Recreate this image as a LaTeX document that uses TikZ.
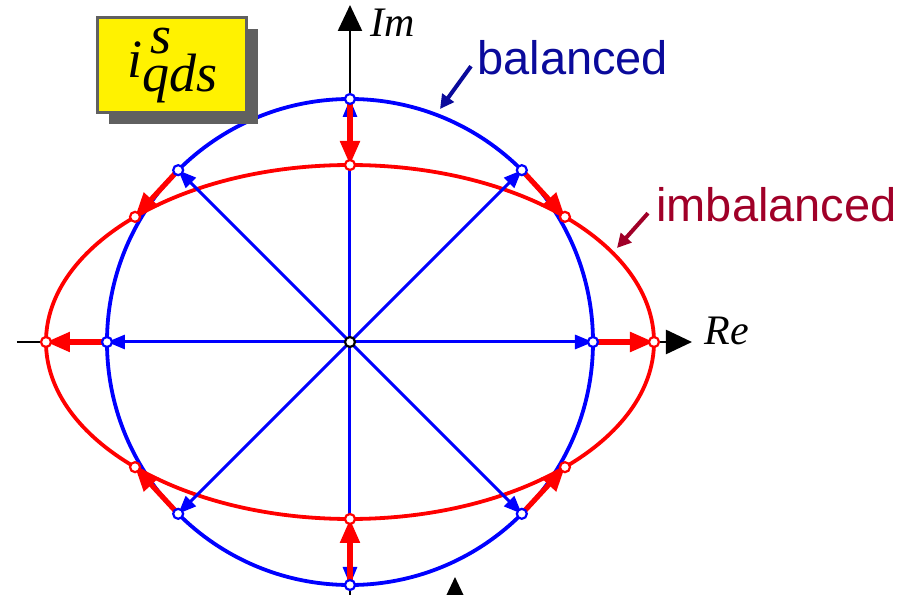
\documentclass[tikz,border=0pt]{standalone}
\usepackage{fontspec}
\setmainfont{Liberation Serif}
\newfontfamily\timesfont{Liberation Serif}
\newfontfamily\notefont{Liberation Sans}
\usetikzlibrary{positioning, arrows.meta, shadows}
\definecolor{vecblue}{RGB}{0,0,255}
\definecolor{vecred}{RGB}{255,0,0}
\definecolor{noteblue}{RGB}{10,10,155}
\definecolor{notered}{RGB}{160,0,40}
\definecolor{boxgrey}{RGB}{96,96,96}

\begin{document}
\begin{tikzpicture}[
    x=0.5pt, y=0.5pt,
    axis/.style={line width=1.2pt, -{Triangle[length=13pt,width=12pt]}},
    bvec/.style={vecblue, line width=1.5pt, -{Triangle[length=9pt,width=7pt]}},
    rvec/.style={vecred, line width=2.6pt, -{Triangle[length=12pt,width=9.5pt]}},
    bdot/.style={circle, draw=vecblue, fill=white, line width=1.1pt, inner sep=0pt, minimum size=5pt},
    rdot/.style={bdot, draw=vecred},
    note/.style={line width=2pt, -{Triangle[length=7pt,width=7pt]}},
    notetext/.style={font=\notefont\fontsize{23.5}{26}\selectfont, inner sep=0pt, anchor=base west},
    axislabel/.style={font=\timesfont\itshape\fontsize{21}{23}\selectfont, inner sep=0pt},
    namebox/.style={fill=yellow, draw=boxgrey, line width=1.5pt,
        minimum width=74.5pt, minimum height=47.5pt,
        drop shadow={shadow xshift=5.5pt, shadow yshift=-5.5pt, fill=boxgrey, opacity=1}}
]
    \useasboundingbox (-350,-253) rectangle (557,342);

    % axes
    \coordinate (O) at (0,0);
    \coordinate (xstart) at (-333,0);
    \coordinate (retip) at (342,0);
    \coordinate (ystart) at (0,-270);
    \coordinate (imtip) at (0,337);
    \coordinate (cutstart) at (105,-300);
    \coordinate (cuttip) at (105,-235);
    \draw[axis] (xstart) -- (retip);
    \draw[axis] (ystart) -- (imtip);
    \draw[axis] (cutstart) -- (cuttip);
    \node[axislabel, right=6pt of retip, yshift=5.5pt] (re) {Re};
    \node[axislabel, anchor=west] (im) at (20,319) {Im};

    % loci
    \draw[vecblue, line width=1.9pt] (O) circle [radius=243];
    \draw[vecred, line width=1.9pt] (O) ellipse [x radius=304, y radius=177];

    % vectors
    \foreach \a in {0,45,...,315} {
        \coordinate (B\a) at (\a:243);
        \coordinate (E\a) at ({304*cos(\a)},{177*sin(\a)});
    }
    \foreach \a in {0,45,...,315} \draw[bvec] (O) -- (B\a);
    \foreach \a in {0,45,...,315} \draw[rvec] (B\a) -- (E\a);
    \foreach \a in {0,45,...,315} {
        \node[bdot] at (B\a) {};
        \node[rdot] at (E\a) {};
    }
    \node[bdot, draw=black] at (O) {};

    % labels
    \node[namebox] (name) at (-177.5,276.5)
        {\timesfont\itshape\fontsize{27}{29}\selectfont i\rlap{\hspace{4pt}\raisebox{0.44em}{s}}\raisebox{-0.26em}{qds}};
    \node[notetext, noteblue] (bal) at (127,267) {balanced};
    \node[notetext, notered] (imbal) at (306,120) {imbalanced};
    \coordinate (baltip) at (90,233);
    \coordinate (imbaltip) at (267,94);
    \draw[note, noteblue] ([xshift=-3pt,yshift=-4pt]bal.west) -- (baltip);
    \draw[note, notered] ([xshift=-4pt,yshift=-4pt]imbal.west) -- (imbaltip);
\end{tikzpicture}
\end{document}
